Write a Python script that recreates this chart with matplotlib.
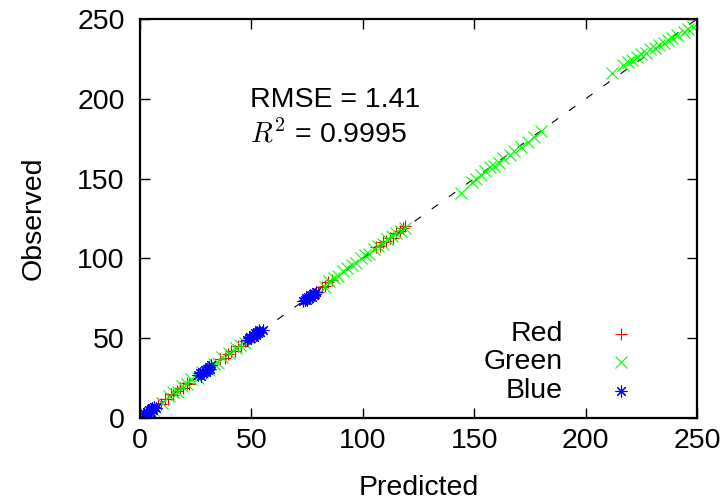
import matplotlib
matplotlib.use("Agg")
import matplotlib.pyplot as plt
import numpy as np

plt.rcParams['font.family'] = ['Liberation Sans', 'DejaVu Sans']
plt.rcParams['mathtext.fontset'] = 'cm'

# ---- data (predicted, observed) ----
red_pred = [8, 9.5, 11, 12.5, 14, 15, 16.5, 18, 19.5, 21, 22,
            36, 38, 39.5, 41, 42.5, 44, 45.5, 47, 48.5,
            76, 78, 80, 81.5, 83, 84.5, 86,
            106, 107.5, 109, 110.5, 112, 113.5, 115, 116.5, 118, 119]
red_obs = [8.5, 9, 12, 12, 15, 14.5, 17, 18.5, 19, 22, 21.5,
           37, 37.5, 40, 42, 42, 45, 45, 48, 48,
           75, 77.5, 79, 82, 83, 85, 86.5,
           107, 108, 110, 111, 113, 113, 116, 117, 119, 120]

green_pred = [6, 10, 13, 15, 17, 19, 21, 23, 26, 28, 31, 33, 35, 37, 40, 43, 45, 47,
              83, 85, 87, 89, 91, 93, 95, 97, 99, 101, 103, 105, 107, 109, 111, 113, 115, 117, 119,
              144, 149, 151, 153, 155, 157, 159, 161, 163, 166, 168, 171, 174, 177, 180,
              212, 217, 219, 221, 223, 225, 227, 229, 231, 233, 235, 237, 239, 241, 244, 246, 248]
green_obs = [5, 9.5, 14, 16, 16, 20, 21, 24.5, 25, 29, 30, 34, 34.5, 38, 41, 44, 46, 47,
             82, 86, 88, 89, 92, 94, 96, 97, 100, 102, 103, 106, 108, 109, 112, 114, 116, 117, 119,
             141, 148, 150, 152, 155, 157, 158, 160, 163, 165, 167, 170, 173, 176, 180,
             216, 221, 223, 224, 226, 228, 229, 231, 232, 234, 235, 237, 238, 240, 242, 244, 245]

blue_pred = [2, 3, 3.5, 4, 4.5, 5, 5.5, 6, 6.5, 7, 3, 5,
             26, 27, 27.5, 28, 28.5, 29, 29.5, 30, 30.5, 31, 31.5, 32,
             48, 49, 49.5, 50, 50.5, 51, 51.5, 52, 52.5, 53, 53.5, 54, 55,
             73, 74, 74.5, 75, 75.5, 76, 76.5, 77, 77.5, 78, 78.5, 79]
blue_obs = [3, 4, 3, 5, 4, 5.5, 6, 5, 7, 6.5, 2.5, 4,
            27, 28, 26.5, 29, 28, 30, 29, 31, 30, 32, 31, 33,
            49, 50, 51, 50, 52, 51, 53, 52, 54, 53, 55, 54, 55,
            73, 74, 75, 74, 76, 75, 77, 76, 78, 77, 78, 79]

series_names = ["Red", "Green", "Blue"]
series_colors = ["#ff0000", "#00ff00", "#0000ff"]
ticks = [0, 50, 100, 150, 200, 250]
rmse_text = "RMSE = 1.41"
r2_text = r"$R^2$ = 0.9995"

FS = 20.5
fig = plt.figure(figsize=(7.24, 5.01), dpi=100)
ax = fig.add_axes([140/724, 1-418/501, 557/724, 399/501])

asterisk = (8, 2, 0)
markers = ['+', 'x', asterisk]
msize = [8.5, 8.5, 8.5]
data = [(red_pred, red_obs), (green_pred, green_obs), (blue_pred, blue_obs)]

# diagonal reference line
diag = np.array([0, 250])
ax.plot(diag, diag, color='black', lw=0.8, ls=(0, (7, 12)), zorder=1)

for (xp, yo), c, m, s in zip(data, series_colors, markers, msize):
    ax.plot(xp, yo, ls='none', marker=m, ms=s, mew=0.8, color=c, zorder=2)

ax.set_xlim(0, 250)
ax.set_ylim(0, 250)
ax.set_xticks(ticks)
ax.set_yticks(ticks)
ax.tick_params(direction='in', length=7, width=1.0, top=True, right=True, labelsize=FS)
ax.tick_params(axis='x', pad=7)
ax.tick_params(axis='y', pad=11)
for sp in ax.spines.values():
    sp.set_linewidth(1.6)

ax.set_xlabel("Predicted", fontsize=FS, labelpad=15)
ax.set_ylabel("Observed", fontsize=FS, labelpad=22)

ax.text(49.4, 199, rmse_text, fontsize=FS, ha='left', va='center')
ax.text(49.4, 178, r2_text, fontsize=FS, ha='left', va='center')

# legend drawn manually (right-aligned labels, marker to the right)
leg_y = [0.2105, 0.1404, 0.0677]
for name, c, m, s, yy in zip(series_names, series_colors, markers, msize, leg_y):
    ax.text(0.7594, yy, name, transform=ax.transAxes, fontsize=FS, ha='right', va='center')
    ax.plot([0.8636], [yy], transform=ax.transAxes, ls='none', marker=m, ms=s, mew=0.8,
            color=c, clip_on=False)

fig.savefig("out.png", dpi=100)
